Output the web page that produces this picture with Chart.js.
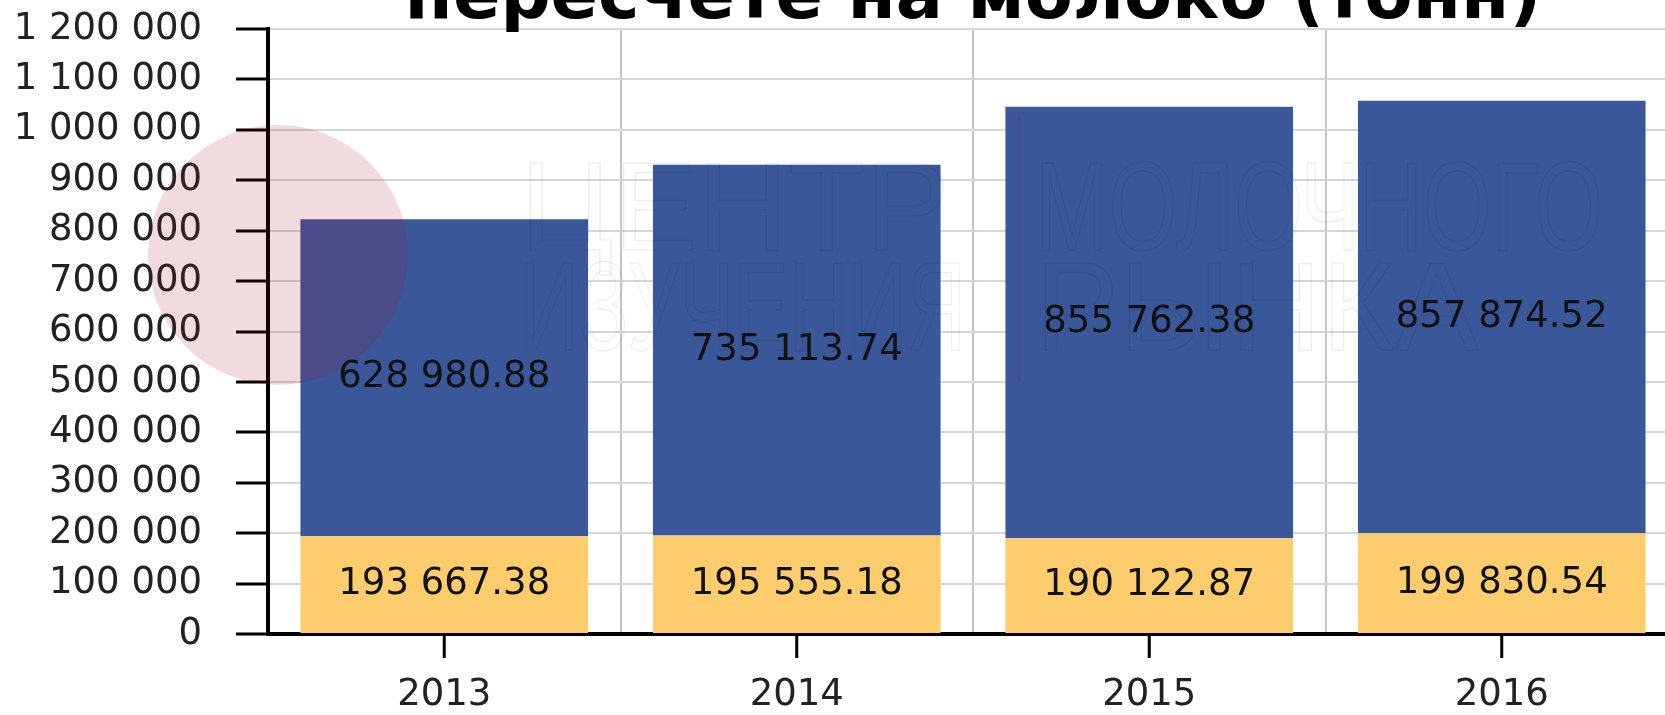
<!DOCTYPE html>
<html lang="ru">
<head>
    <meta charset="UTF-8">
    <title>пересчете на молоко (тонн)</title>
    <script src="https://cdn.jsdelivr.net/npm/chart.js@4.4.1/dist/chart.umd.min.js"></script>
    <style>
        body {
            margin: 0;
            background: #fff;
            overflow: hidden;
        }
        .chart-box {
            width: 1680px;
            height: 715px;
        }
    </style>
</head>
<body>
    <div class="chart-box">
        <canvas id="milkChart"></canvas>
    </div>

    <script>
        // data
        const years = ['2013', '2014', '2015', '2016'];
        const lowerValues = [193667.38, 195555.18, 190122.87, 199830.54];
        const upperValues = [628980.88, 735113.74, 855762.38, 857874.52];
        const yMax = 1200000;
        const yStep = 100000;
        const titleLine = 'пересчете на молоко (тонн)';

        // 1234567.8 -> "1 234 567.80"
        function fmt(v, dec) {
            const parts = v.toFixed(dec).split('.');
            parts[0] = parts[0].replace(/\B(?=(\d{3})+(?!\d))/g, ' ');
            return parts.join('.');
        }

        // faint logo that sits over the plot
        const watermark = {
            id: 'watermark',
            afterDatasetsDraw(chart) {
                const ctx = chart.ctx;
                ctx.save();
                ctx.fillStyle = 'rgba(170, 15, 40, 0.15)';
                ctx.beginPath();
                ctx.arc(278, 255, 130, 0, Math.PI * 2);
                ctx.fill();

                ctx.strokeStyle = 'rgba(0, 0, 0, 0.07)';
                ctx.lineWidth = 1.5;
                ctx.font = '126px "Liberation Sans"';
                ctx.textAlign = 'left';
                ctx.textBaseline = 'alphabetic';
                ctx.strokeText('ЦЕНТР', 520, 250, 446);
                ctx.strokeText('ИЗУЧЕНИЯ', 520, 350, 446);
                ctx.strokeText('МОЛОЧНОГО', 1035, 250, 568);
                ctx.strokeText('РЫНКА', 1035, 350, 505);
                ctx.strokeStyle = 'rgba(120, 20, 40, 0.12)';
                ctx.lineWidth = 3;
                ctx.beginPath();
                ctx.moveTo(1019, 117);
                ctx.lineTo(1019, 382);
                ctx.stroke();
                ctx.restore();
            }
        };

        // value in the middle of each segment
        const segmentLabels = {
            id: 'segmentLabels',
            afterDatasetsDraw(chart) {
                const ctx = chart.ctx;
                ctx.save();
                ctx.font = '37px "DejaVu Sans"';
                ctx.fillStyle = '#111';
                ctx.textAlign = 'center';
                ctx.textBaseline = 'middle';
                chart.data.datasets.forEach((ds, di) => {
                    chart.getDatasetMeta(di).data.forEach((bar, i) => {
                        const p = bar.getProps(['x', 'y', 'base'], true);
                        ctx.fillText(fmt(ds.data[i], 2), p.x, (p.y + p.base) / 2);
                    });
                });
                ctx.restore();
            }
        };

        // black tick marks under category centres + cut-off title
        const extras = {
            id: 'extras',
            afterDraw(chart) {
                const ctx = chart.ctx;
                const xs = chart.scales.x;
                ctx.save();
                ctx.strokeStyle = '#000';
                ctx.lineWidth = 3;
                xs.ticks.forEach((t, i) => {
                    const px = xs.getPixelForTick(i);
                    ctx.beginPath();
                    ctx.moveTo(px, xs.top);
                    ctx.lineTo(px, xs.top + 24);
                    ctx.stroke();
                });

                const area = chart.chartArea;
                ctx.font = 'bold 70px "DejaVu Sans"';
                ctx.fillStyle = '#000';
                ctx.textAlign = 'center';
                ctx.textBaseline = 'alphabetic';
                ctx.fillText(titleLine, (area.left + area.right) / 2, 18);
                ctx.restore();
            }
        };

        new Chart(document.getElementById('milkChart'), {
            type: 'bar',
            data: {
                labels: years,
                datasets: [
                    {
                        label: 'нижний сегмент',
                        data: lowerValues,
                        backgroundColor: '#FDCD6D'
                    },
                    {
                        label: 'верхний сегмент',
                        data: upperValues,
                        backgroundColor: '#3A579A'
                    }
                ]
            },
            options: {
                responsive: true,
                maintainAspectRatio: false,
                animation: false,
                categoryPercentage: 1,
                barPercentage: 0.816,
                layout: {
                    padding: { top: 29, right: 2, bottom: 0, left: 0 }
                },
                plugins: {
                    legend: { display: false },
                    tooltip: { enabled: false },
                    title: { display: false }
                },
                scales: {
                    x: {
                        stacked: true,
                        grid: {
                            offset: true,
                            color: '#c4c4c4',
                            lineWidth: 2,
                            drawTicks: false
                        },
                        border: { color: '#000', width: 4 },
                        ticks: {
                            padding: 39,
                            color: '#222',
                            font: { family: '"DejaVu Sans"', size: 37 }
                        },
                        afterFit(scale) {
                            scale.height = 81;
                        }
                    },
                    y: {
                        stacked: true,
                        min: 0,
                        max: yMax,
                        grid: {
                            color: '#d6d6d6',
                            lineWidth: 2,
                            tickColor: '#000',
                            tickLength: 32,
                            tickWidth: 3
                        },
                        border: { color: '#000', width: 4 },
                        ticks: {
                            stepSize: yStep,
                            padding: 34,
                            color: '#222',
                            font: { family: '"DejaVu Sans"', size: 37 },
                            callback: (v) => fmt(v, 0)
                        },
                        afterFit(scale) {
                            scale.width = 268;
                            scale.paddingTop = 0;
                            scale.paddingBottom = 0;
                        }
                    }
                }
            },
            plugins: [watermark, segmentLabels, extras]
        });
    </script>
</body>
</html>
